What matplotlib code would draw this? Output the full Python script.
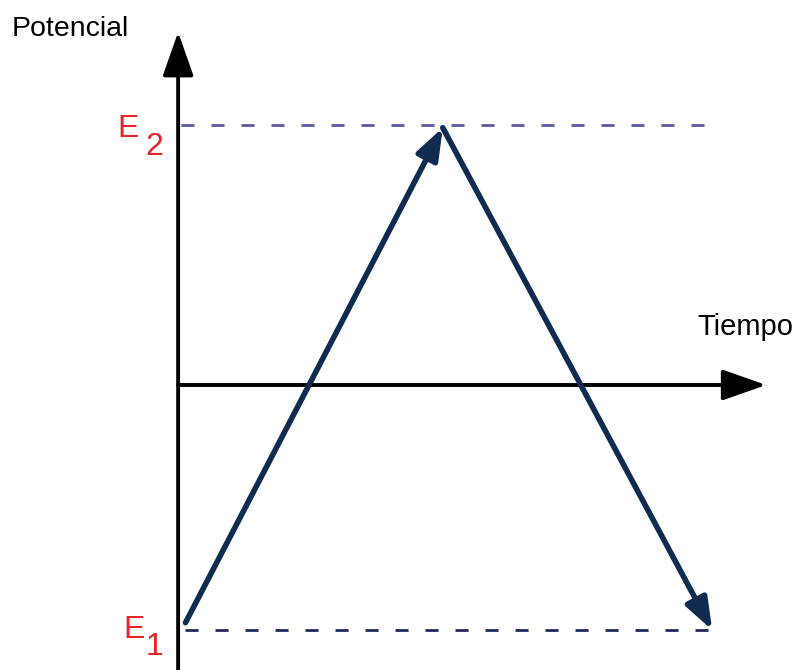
import matplotlib.pyplot as plt

# potential sweep (arbitrary units), time axis in arbitrary units
E1 = -1.0
E2 = 1.06
t_sweep = [0.03, 1.08, 2.18]
v_sweep = [-0.97, 1.05, -1.0]
t_end_e2 = 2.16
t_end_e1 = 2.21

navy = '#0f2b50'
red = '#e8262a'

plt.rcParams['font.family'] = ['Liberation Sans', 'DejaVu Sans']

fig = plt.figure(figsize=(7.98, 6.70), dpi=100)
ax = fig.add_axes([0, 0, 1, 1])
ax.set_xlim(-0.727, 2.53)
ax.set_ylim(-1.163, 1.571)
ax.axis('off')

# axes with arrows
axis_arrow = dict(arrowstyle='-|>,head_length=2.7,head_width=0.95', lw=2.8,
                  color='black', mutation_scale=10, shrinkA=0, shrinkB=0)
ax.annotate('', xy=(0, 1.44), xytext=(0, -1.163), arrowprops=axis_arrow)
ax.annotate('', xy=(2.40, 0), xytext=(0, 0), arrowprops=axis_arrow)

# E1 / E2 dashed levels
ax.plot([0.01, t_end_e2], [E2, E2], color='#5a5aa8', lw=2, dashes=(4.7, 6.1))
ax.plot([0.03, t_end_e1], [E1, E1], color='#1c2c5c', lw=2, dashes=(4.7, 6.1))

# triangular sweep
for i in range(2):
    ax.annotate('', xy=(t_sweep[i + 1], v_sweep[i + 1]),
                xytext=(t_sweep[i], v_sweep[i]),
                arrowprops=dict(arrowstyle='-|>,head_length=1.9,head_width=0.7',
                                lw=4, color=navy, mutation_scale=10,
                                shrinkA=0, shrinkB=0))

# labels
ax.text(-0.678, 1.424, 'Potencial', fontsize=20.5, va='baseline', ha='left')
ax.text(2.118, 0.204, 'Tiempo', fontsize=21, va='baseline', ha='left')
ax.text(-0.206, 1.012, 'E', color=red, fontsize=23, ha='center', va='baseline')
ax.text(-0.098, 0.939, '2', color=red, fontsize=23, ha='center', va='baseline')
ax.text(-0.18, -1.033, 'E', color=red, fontsize=23, ha='center', va='baseline')
ax.text(-0.098, -1.102, '1', color=red, fontsize=23, ha='center', va='baseline')

fig.savefig('out.png', dpi=100)
